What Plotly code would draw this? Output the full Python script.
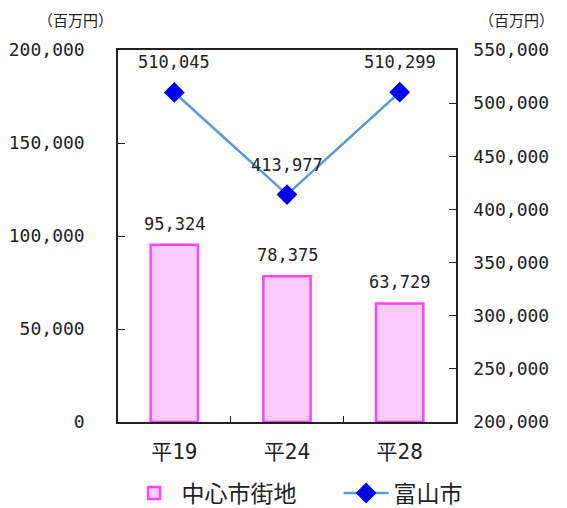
import plotly.graph_objects as go

categories = ["平19", "平24", "平28"]
center_values = [95324, 78375, 63729]
city_values = [510045, 413977, 510299]
series_names = ["中心市街地", "富山市"]
unit_label = "（百万円）"

NUM_FONT = "DejaVu Sans Mono, Noto Sans CJK JP"
CJK_FONT = "Noto Sans CJK JP, DejaVu Sans"
TXT = "#222222"

fig = go.Figure()
fig.add_trace(go.Bar(
    x=categories, y=center_values, name=series_names[0],
    marker=dict(color="#ffccff", line=dict(color="#ff44ff", width=2.5)),
    width=0.42, yaxis="y",
))
fig.add_trace(go.Scatter(
    x=categories, y=city_values, name=series_names[1], mode="lines+markers",
    line=dict(color="#5b9bd5", width=2.5),
    marker=dict(symbol="diamond", size=16, color="#0000ee"),
    yaxis="y2",
))

annotations = []
for c, v in zip(categories, center_values):
    annotations.append(dict(x=c, y=v, xref="x", yref="y", text=f"{v:,}",
                            showarrow=False, yshift=21,
                            font=dict(family=NUM_FONT, size=17, color=TXT)))
for c, v in zip(categories, city_values):
    annotations.append(dict(x=c, y=v, xref="x", yref="y2", text=f"{v:,}",
                            showarrow=False, yshift=30,
                            font=dict(family=NUM_FONT, size=17, color=TXT)))
for xpos in (-0.127, 1.178):
    annotations.append(dict(x=xpos, y=1.081, xref="paper", yref="paper", text=unit_label,
                            showarrow=False, xanchor="center", yanchor="middle",
                            font=dict(family=CJK_FONT, size=15, color=TXT)))

fig.update_layout(
    width=567, height=508,
    margin=dict(l=118, r=111, t=50, b=86, autoexpand=False),
    paper_bgcolor="white", plot_bgcolor="white",
    showlegend=True,
    legend=dict(orientation="h", x=-0.01, xanchor="left", y=-0.191, yanchor="middle",
                font=dict(family=CJK_FONT, size=23, color=TXT), itemwidth=45,
                entrywidth=140, indentation=12, traceorder="normal"),
    xaxis=dict(showline=True, linecolor="#222222", linewidth=1.5, mirror=True,
               ticks="inside", tickson="boundaries", ticklen=6, tickcolor="#222222",
               tickfont=dict(family=NUM_FONT, size=21, color=TXT),
               ticklabelstandoff=10, automargin=False,
               showgrid=False),
    yaxis=dict(range=[0, 200000], dtick=50000, tickformat=",d",
               showline=True, linecolor="#222222", linewidth=1.5,
               ticks="inside", ticklen=7, tickcolor="#222222",
               ticklabelstandoff=28, showgrid=False, zeroline=False, automargin=False,
               tickfont=dict(family=NUM_FONT, size=18, color=TXT)),
    yaxis2=dict(range=[200000, 550000], dtick=50000, tickformat=",d",
                overlaying="y", side="right",
                showline=True, linecolor="#222222", linewidth=1.5,
                ticks="inside", ticklen=7, tickcolor="#222222",
                ticklabelstandoff=12, showgrid=False, zeroline=False, automargin=False,
                tickfont=dict(family=NUM_FONT, size=18, color=TXT)),
    annotations=annotations,
)

fig.write_html("out.html", config={"displayModeBar": False},
               post_script="document.body.style.margin='0';document.body.style.overflow='hidden';")
